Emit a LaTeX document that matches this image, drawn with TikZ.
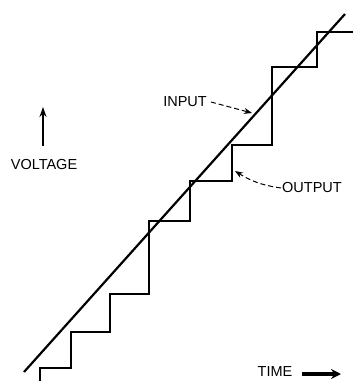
\documentclass[tikz,border=0pt]{standalone}
\usepackage{fontspec}
\setmainfont{Liberation Sans}
\usetikzlibrary{arrows.meta}
\tikzset{
  lbl/.style={inner sep=0pt, font=\fontsize{14.5}{17}\selectfont},
  stair/.style={line width=2.8pt, line join=miter},
  ramp/.style={line width=2.2pt},
  callout/.style={line width=1pt, dash pattern=on 5pt off 3pt, -{Stealth[length=8pt,width=6pt]}},
  axisarrow/.style={line width=2.4pt, -{Stealth[length=10pt,width=7pt]}},
  timearrow/.style={line width=3.6pt, -{Stealth[length=10pt,width=10pt]}}
}
\begin{document}
\begin{tikzpicture}[x=1pt,y=-1pt]
\useasboundingbox (0,0) rectangle (353,381);
% input ramp
\coordinate (r0) at (24,372);
\coordinate (r1) at (345,14);
\draw[ramp] (r0) -- (r1);
% output staircase
\draw[stair] (40,383) -- (40,368) -- (71,368) -- (71,332) -- (110,332) -- (110,294)
  -- (149,294) -- (149,221) -- (190,221) -- (190,181) -- (232,181) -- (232,145)
  -- (272,145) -- (272,67) -- (317,67) -- (317,32) -- (353,32);
% labels
\node[lbl] (input) at (185,102) {INPUT};
\node[lbl] (output) at (312,188) {OUTPUT};
\node[lbl] (voltage) at (44,165) {VOLTAGE};
\node[lbl] (time) at (275,372) {TIME};
\coordinate (inpt) at (252,113);
\coordinate (outpt) at (235,171);
\draw[callout] ([xshift=4pt]input.east) -- (inpt);
\draw[callout] ([xshift=-1pt]output.west) to[bend left=12] (outpt);
% axis arrows
\coordinate (va) at (43,146);
\coordinate (vb) at (43,107);
\draw[axisarrow] (va) -- (vb);
\coordinate (ta) at (302,374);
\coordinate (tb) at (341,374);
\draw[timearrow] (ta) -- (tb);
\end{tikzpicture}
\end{document}
